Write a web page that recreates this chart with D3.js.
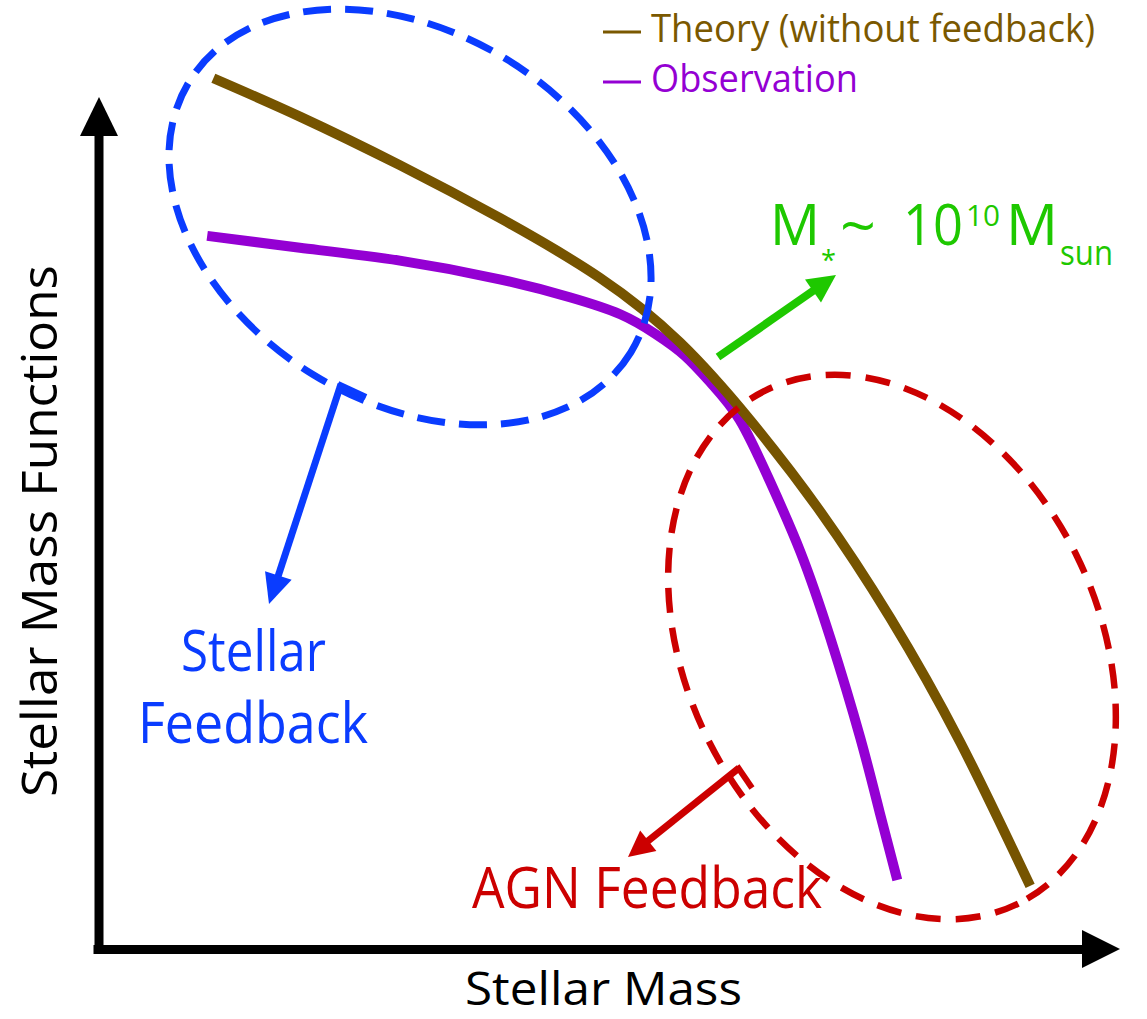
<!DOCTYPE html>
<html>
<head>
<meta charset="utf-8">
<script src="https://cdn.jsdelivr.net/npm/d3@7/dist/d3.min.js"></script>
<style>
  body { margin: 0; background: #fff; }
  svg { display: block; }
  text { font-family: "Open Sans", "Noto Sans", sans-serif; }
</style>
</head>
<body>
<svg id="svg" width="1147" height="1019"></svg>
<script>
// schematic values (arbitrary units, 0..10 on both axes)
var theoryMass = [1.12, 1.96, 2.93, 3.90, 4.87, 5.65, 6.33, 7.01, 7.69, 8.37, 9.05];
var theoryPhi  = [10.22, 9.77, 9.20, 8.58, 7.88, 7.12, 6.21, 5.14, 3.89, 2.43, 0.74];

var obsMass = [1.06, 1.96, 2.93, 3.90, 4.58, 5.07, 5.41, 5.70, 5.96, 6.23, 6.52, 6.82, 7.11, 7.40, 7.59, 7.76];
var obsPhi  = [8.37, 8.23, 8.08, 7.86, 7.65, 7.45, 7.22, 6.96, 6.63, 6.21, 5.50, 4.66, 3.65, 2.48, 1.60, 0.81];

var legendLabels = ["Theory (without feedback)", "Observation"];
var legendColors = ["#7a5800", "#9400d3"];

window.onload = function() {

    var svg = d3.select("#svg");
    var brown = "#765400", purple = "#9400d3", blue = "#0a3cff", red = "#cc0000", green = "#1ec800";

    var x = d3.scaleLinear().domain([0, 10]).range([98, 1128]);
    var y = d3.scaleLinear().domain([0, 10]).range([949, 97]);

    // axes (no ticks, just the thick lines with arrow heads)
    svg.append("g")
        .attr("transform", "translate(0,949)")
        .call(d3.axisBottom(x.copy().range([93, 1086])).ticks(0).tickSizeOuter(0))
        .select(".domain").attr("stroke", "#000").attr("stroke-width", 9);
    svg.append("g")
        .attr("transform", "translate(98.5,0)")
        .call(d3.axisLeft(y.copy().range([953, 130])).ticks(0).tickSizeOuter(0))
        .select(".domain").attr("stroke", "#000").attr("stroke-width", 9);
    svg.append("path").attr("d", "M1120,949 L1082,930 L1082,968 Z").attr("fill", "#000");
    svg.append("path").attr("d", "M99,97 L80,136 L118,136 Z").attr("fill", "#000");

    var line = d3.line()
        .x(function(d) { return x(d[0]); })
        .y(function(d) { return y(d[1]); })
        .curve(d3.curveNatural);

    svg.append("path")
        .datum(d3.zip(obsMass, obsPhi))
        .attr("d", line)
        .attr("fill", "none").attr("stroke", purple).attr("stroke-width", 10);
    svg.append("path")
        .datum(d3.zip(theoryMass, theoryPhi))
        .attr("d", line)
        .attr("fill", "none").attr("stroke", brown).attr("stroke-width", 10);

    // dashed ellipses
    svg.append("ellipse")
        .attr("cx", 0).attr("cy", 0).attr("rx", 259).attr("ry", 185)
        .attr("transform", "translate(410,217) rotate(31.5)")
        .attr("fill", "none").attr("stroke", blue).attr("stroke-width", 7)
        .attr("stroke-dasharray", "28,14");
    svg.append("ellipse")
        .attr("cx", 0).attr("cy", 0).attr("rx", 286).attr("ry", 206)
        .attr("transform", "translate(892,647) rotate(63.8)")
        .attr("fill", "none").attr("stroke", red).attr("stroke-width", 6.5)
        .attr("stroke-dasharray", "25,15");

    function arrow(x0, y0, x1, y1, color, w, hl, hw) {
        var dx = x1 - x0, dy = y1 - y0, len = Math.sqrt(dx * dx + dy * dy);
        var ux = dx / len, uy = dy / len;
        var bx = x1 - ux * hl, by = y1 - uy * hl;
        svg.append("line")
            .attr("x1", x0).attr("y1", y0).attr("x2", bx + ux * 2).attr("y2", by + uy * 2)
            .attr("stroke", color).attr("stroke-width", w);
        svg.append("path")
            .attr("d", "M" + x1 + "," + y1 +
                " L" + (bx - uy * hw) + "," + (by + ux * hw) +
                " L" + (bx + uy * hw) + "," + (by - ux * hw) + " Z")
            .attr("fill", color);
    }

    // callouts
    svg.append("line").attr("x1", 338).attr("y1", 384).attr("x2", 366).attr("y2", 397)
        .attr("stroke", blue).attr("stroke-width", 6);
    arrow(341, 384, 269, 604, blue, 7, 30, 14);

    svg.append("line").attr("x1", 737).attr("y1", 766).attr("x2", 752).attr("y2", 788)
        .attr("stroke", red).attr("stroke-width", 6);
    arrow(739, 768, 628, 857, red, 7, 26, 13);

    arrow(718, 357, 836, 275, green, 8, 28, 14);

    // legend
    legendLabels.forEach(function(lab, i) {
        var ly = 32 + i * 50;
        svg.append("line").attr("x1", 603).attr("x2", 641).attr("y1", ly).attr("y2", ly)
            .attr("stroke", legendColors[i]).attr("stroke-width", 3);
        svg.append("text").attr("x", 651).attr("y", ly + 10)
            .attr("font-size", 38).attr("fill", legendColors[i])
            .attr("textLength", i == 0 ? 444 : 207).attr("lengthAdjust", "spacingAndGlyphs")
            .text(lab);
    });

    // axis titles
    svg.append("text").attr("x", 465).attr("y", 1005)
        .attr("font-size", 45).attr("fill", "#000")
        .attr("textLength", 277).attr("lengthAdjust", "spacingAndGlyphs")
        .text("Stellar Mass");
    svg.append("text")
        .attr("transform", "translate(57,797) rotate(-90)")
        .attr("font-size", 50).attr("fill", "#000")
        .attr("textLength", 532).attr("lengthAdjust", "spacingAndGlyphs")
        .text("Stellar Mass Functions");

    // annotations
    function label(tx, ty, str, size, color, tl) {
        svg.append("text").attr("x", tx).attr("y", ty)
            .attr("font-size", size).attr("fill", color)
            .attr("textLength", tl).attr("lengthAdjust", "spacingAndGlyphs")
            .text(str);
    }
    label(181, 671, "Stellar", 56, blue, 145);
    label(138, 743, "Feedback", 56, blue, 230);
    label(472, 908, "AGN Feedback", 56, red, 350);

    label(770, 245, "M", 56, green, 50);
    label(821, 270, "*", 28, green, 15);
    label(840, 248, "~", 60, green, 36);
    label(903, 245, "10", 56, green, 60);
    label(966, 226, "10", 30, green, 34);
    label(1006, 245, "M", 56, green, 52);
    label(1060, 265, "sun", 34, green, 53);
};
</script>
</body>
</html>
